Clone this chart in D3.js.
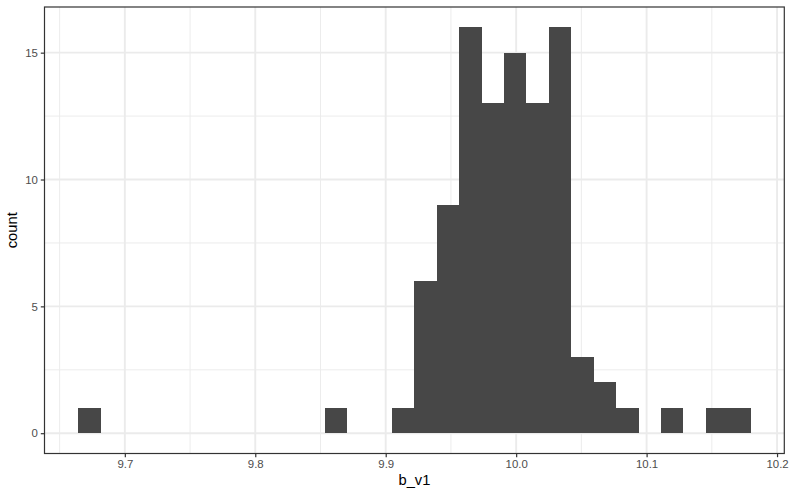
<!DOCTYPE html>
<html>
<head>
<meta charset="utf-8">
<script src="https://cdn.jsdelivr.net/npm/d3@7"></script>
<style>
  html, body { margin: 0; padding: 0; background: #ffffff; }
  svg { display: block; font-family: "Liberation Sans", Arial, Helvetica, sans-serif; }
</style>
</head>
<body>
<svg id="chart" width="792" height="496"></svg>
<script>
// ---- data ----
const binStart = 9.6642;      // left edge of first bin
const binWidth = 0.017186;    // width of each bin
const counts = [1,0,0,0,0,0,0,0,0,0,0,1,0,0,1,6,9,16,13,15,13,16,3,2,1,0,1,0,1,1];
const xTicks = [9.7, 9.8, 9.9, 10.0, 10.1, 10.2];
const xTickLabels = ["9.7", "9.8", "9.9", "10.0", "10.1", "10.2"];
const xMinor = [9.65, 9.75, 9.85, 9.95, 10.05, 10.15];
const yTicks = [0, 5, 10, 15];
const yMinor = [2.5, 7.5, 12.5];
const xTitle = "b_v1";
const yTitle = "count";

// ---- layout ----
const W = 792, H = 496;
const panel = { left: 44.5, right: 784.3, top: 7, bottom: 453.5 };

const bins = counts.map((c, i) => ({ x0: binStart + i * binWidth, x1: binStart + (i + 1) * binWidth, count: c }));
const xMin = bins[0].x0, xMax = bins[bins.length - 1].x1;
const xPad = (xMax - xMin) * 0.05;
const yMaxV = d3.max(counts);
const yPad = yMaxV * 0.05;

const x = d3.scaleLinear().domain([xMin - xPad, xMax + xPad]).range([panel.left, panel.right]);
const y = d3.scaleLinear().domain([-yPad, yMaxV + yPad]).range([panel.bottom, panel.top]);

const svg = d3.select("#chart");
svg.append("rect").attr("width", W).attr("height", H).attr("fill", "#ffffff");

const grid = svg.append("g");
// minor grid
grid.selectAll(".xmin").data(xMinor).join("line")
  .attr("x1", d => x(d)).attr("x2", d => x(d)).attr("y1", panel.top).attr("y2", panel.bottom)
  .attr("stroke", "#ebebeb").attr("stroke-width", 0.95);
grid.selectAll(".ymin").data(yMinor).join("line")
  .attr("y1", d => y(d)).attr("y2", d => y(d)).attr("x1", panel.left).attr("x2", panel.right)
  .attr("stroke", "#ebebeb").attr("stroke-width", 0.95);
// major grid
grid.selectAll(".xmaj").data(xTicks).join("line")
  .attr("x1", d => x(d)).attr("x2", d => x(d)).attr("y1", panel.top).attr("y2", panel.bottom)
  .attr("stroke", "#ebebeb").attr("stroke-width", 1.9);
grid.selectAll(".ymaj").data(yTicks).join("line")
  .attr("y1", d => y(d)).attr("y2", d => y(d)).attr("x1", panel.left).attr("x2", panel.right)
  .attr("stroke", "#ebebeb").attr("stroke-width", 1.9);

// bars
svg.append("g").attr("shape-rendering", "crispEdges")
  .selectAll("rect").data(bins.filter(b => b.count > 0)).join("rect")
  .attr("x", d => x(d.x0))
  .attr("width", d => x(d.x1) - x(d.x0))
  .attr("y", d => y(d.count))
  .attr("height", d => y(0) - y(d.count))
  .attr("fill", "#474747");

// panel border
svg.append("rect")
  .attr("x", panel.left).attr("y", panel.top)
  .attr("width", panel.right - panel.left).attr("height", panel.bottom - panel.top)
  .attr("fill", "none").attr("stroke", "#333333").attr("stroke-width", 1.2);

// axes
const xAxis = d3.axisBottom(x).tickValues(xTicks)
  .tickFormat((d, i) => xTickLabels[i]).tickSize(3.7).tickPadding(2.9);
const yAxis = d3.axisLeft(y).tickValues(yTicks)
  .tickFormat(d3.format("d")).tickSize(3.7).tickPadding(2.9);

const gx = svg.append("g").attr("transform", `translate(0,${panel.bottom})`).call(xAxis);
const gy = svg.append("g").attr("transform", `translate(${panel.left},0)`).call(yAxis);
[gx, gy].forEach(g => {
  g.attr("font-size", null).attr("font-family", null);
  g.select(".domain").remove();
  g.selectAll(".tick line").attr("stroke", "#333333").attr("stroke-width", 1.2);
  g.selectAll(".tick text").attr("fill", "#4d4d4d")
    .style("font-size", "11.4px")
    .style("font-family", "'Liberation Sans', Arial, Helvetica, sans-serif");
});

// axis titles
svg.append("text")
  .attr("x", (panel.left + panel.right) / 2).attr("y", 485)
  .attr("text-anchor", "middle").attr("fill", "#000000")
  .style("font-size", "14.7px").text(xTitle);
svg.append("text")
  .attr("transform", `translate(17,${(panel.top + panel.bottom) / 2}) rotate(-90)`)
  .attr("text-anchor", "middle").attr("fill", "#000000")
  .style("font-size", "14.7px").text(yTitle);
</script>
</body>
</html>
